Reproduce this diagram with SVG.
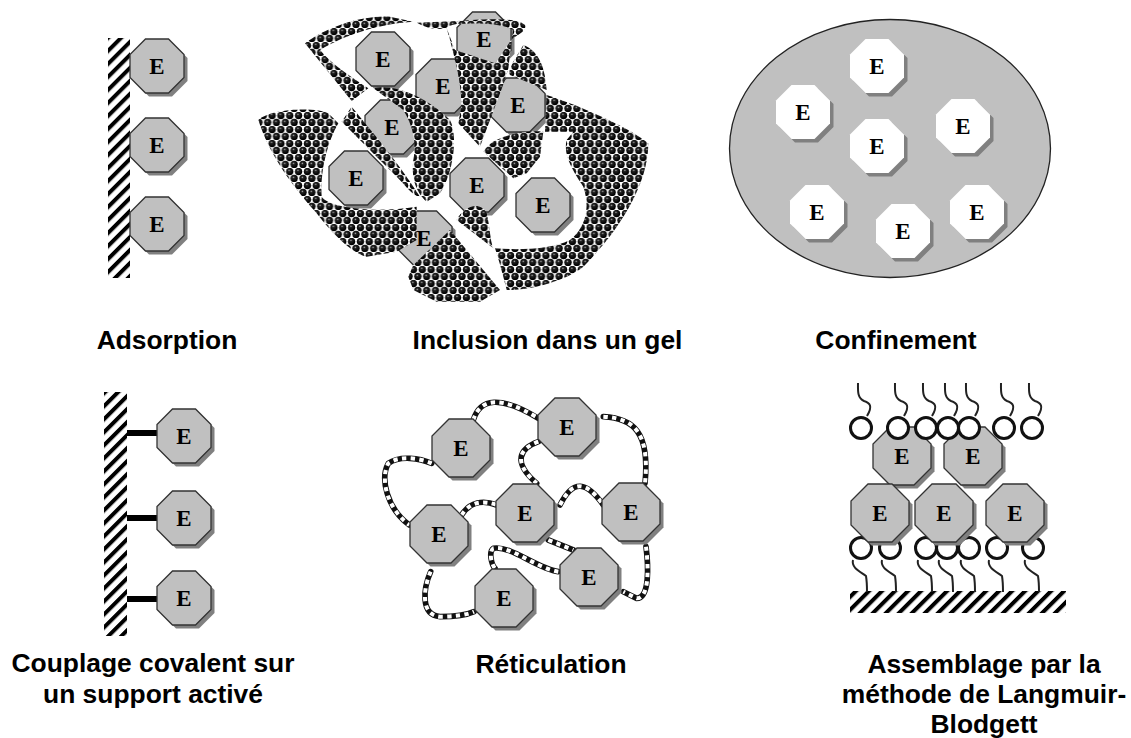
<svg xmlns="http://www.w3.org/2000/svg" width="1131" height="738" viewBox="0 0 1131 738">
<style>
.e{font-family:"Liberation Serif","DejaVu Serif",serif;font-weight:700;font-size:23px;fill:#000;text-anchor:middle}
.lab{font-family:"Liberation Sans",Arial,sans-serif;font-weight:700;font-size:26.4px;fill:#000;text-anchor:middle}
.oct{fill:#c0c0c0;stroke:#333;stroke-width:1.3}
.sh{fill:#808080}
.w{fill:#fff}
.gel{fill:url(#beads)}
.hatch{fill:url(#stripes)}
.c1{fill:none;stroke:#111;stroke-width:17;stroke-linecap:round}
.c2{fill:none;stroke:#fff;stroke-width:12;stroke-dasharray:13 13}
.head{fill:#fff;stroke:#111;stroke-width:3}
.tail{fill:none;stroke:#222;stroke-width:2}
.bar{fill:#000}
</style>
<defs>
<radialGradient id="ball" cx=".42" cy=".35" r=".55"><stop offset="0" stop-color="#aaa"/><stop offset=".3" stop-color="#222"/><stop offset="1" stop-color="#000"/></radialGradient>
<pattern id="beads" patternUnits="userSpaceOnUse" width="26.5" height="42">
<rect width="26.5" height="42" fill="#fff"/>
<circle cx="13.25" cy="10.5" r="11" fill="url(#ball)"/>
<circle cx="0" cy="31.5" r="11" fill="url(#ball)"/>
<circle cx="26.5" cy="31.5" r="11" fill="url(#ball)"/>
</pattern>
<pattern id="stripes" patternUnits="userSpaceOnUse" width="9.2" height="9.2" patternTransform="rotate(45)">
<rect width="9.2" height="9.2" fill="#fff"/><rect width="4" height="9.2" fill="#000"/>
</pattern>
<polygon id="o27s" class="sh" points="-11.5,-27 11.5,-27 27,-11.5 27,11.5 11.5,27 -11.5,27 -27,11.5 -27,-11.5"/>
<polygon id="o27" class="oct" points="-11.5,-27 11.5,-27 27,-11.5 27,11.5 11.5,27 -11.5,27 -27,11.5 -27,-11.5"/>
<polygon id="o29s" class="sh" points="-12,-29 12,-29 29,-12 29,12 12,29 -12,29 -29,12 -29,-12"/>
<polygon id="o29" class="oct" points="-12,-29 12,-29 29,-12 29,12 12,29 -12,29 -29,12 -29,-12"/>
<polygon id="ow" class="w" points="-11.5,-27 11.5,-27 27,-11.5 27,11.5 11.5,27 -11.5,27 -27,11.5 -27,-11.5"/>
<path id="tt" class="tail" d="M6,-12C12,-22 9,-25 3,-27C-4,-30 -3,-38 -3,-45"/>
<path id="tb" class="tail" d="M-8,12C-10,20 0,24 5,28C6,34 6,38 6,44"/>
<g id="n27"><use href="#o27s" x="3.5" y="3.5"/><use href="#o27"/></g>
<g id="n29"><use href="#o29s" x="3.5" y="3.5"/><use href="#o29"/></g>
<g id="nw"><use href="#o27s" x="3.5" y="3.5"/><use href="#ow"/></g>
<g id="ht"><circle class="head" r="10.5"/><use href="#tt"/></g>
<g id="hb"><circle class="head" r="10.5"/><use href="#tb"/></g>
</defs>
<rect width="1131" height="738" fill="#fff"/>

<g id="adsorption">
<rect id="ads-wall" class="hatch" x="108" y="38" width="22" height="240"/>
<g id="ads-e1" transform="translate(157,66)"><use href="#n27"/><text class="e" y="8">E</text></g>
<g id="ads-e2" transform="translate(157,145)"><use href="#n27"/><text class="e" y="8">E</text></g>
<g id="ads-e3" transform="translate(157,224)"><use href="#n27"/><text class="e" y="8">E</text></g>
</g>

<g id="inclusion">
<g id="gel-e1" transform="translate(383,59)"><use href="#n27"/><text class="e" y="8">E</text></g>
<g id="gel-e2" transform="translate(443,86)"><use href="#n27"/><text class="e" y="8">E</text></g>
<g id="gel-e3" transform="translate(484,39)"><use href="#n27"/><text class="e" y="8">E</text></g>
<g id="gel-e4" transform="translate(518,105)"><use href="#n27"/><text class="e" y="8">E</text></g>
<g id="gel-e5" transform="translate(392,127)"><use href="#n27"/><text class="e" y="8">E</text></g>
<g id="gel-e6" transform="translate(356,178)"><use href="#n27"/><text class="e" y="8">E</text></g>
<g id="gel-e7" transform="translate(477,185)"><use href="#n27"/><text class="e" y="8">E</text></g>
<g id="gel-e8" transform="translate(543,205)"><use href="#n27"/><text class="e" y="8">E</text></g>
<g id="gel-e9" transform="translate(425,238)"><use href="#n27"/></g>
<g id="gel-shapes" transform="translate(250,0) scale(.33333)">
<path class="gel" d="M165,130C230,80 340,45 420,50L490,65C400,70 290,100 210,150C250,200 320,240 355,265L305,303Z"/>
<path class="gel" d="M500,68L640,62C680,58 800,50 825,75C832,95 800,105 785,118L775,205L765,240L690,440L625,370L632,330C640,280 620,190 590,85C560,90 530,85 500,68Z M620,72C600,76 592,80 590,85L615,150L735,190L785,118L790,90C760,70 680,68 620,72Z" fill-rule="evenodd"/>
<path class="gel" d="M820,135C860,150 885,190 890,270L780,225C770,210 800,170 820,135Z"/>
<path class="gel" d="M370,265C430,250 530,290 600,360C625,410 610,520 570,580L530,605C490,570 485,520 490,480C500,430 490,380 460,330Z"/>
<path class="gel" d="M275,365L305,320C370,400 440,480 510,590C490,590 470,560 440,530Z"/>
<path class="gel" d="M25,360C60,325 200,320 235,340L265,370C230,430 210,520 215,590C240,625 380,640 500,620L500,720L440,755L350,770C300,760 230,680 200,640C130,560 60,470 25,360Z"/>
<path class="gel" d="M490,795L600,690L750,870L690,905L560,905L490,870L475,830Z"/>
<path class="gel" d="M700,455C730,400 850,390 880,395L870,470L830,520L790,535Z"/>
<path class="gel" d="M890,285C1000,320 1150,390 1195,430C1195,560 1100,700 1000,800C950,840 850,870 770,870C760,830 750,790 735,745C800,750 900,750 960,720C1010,680 1020,620 1000,560C960,500 940,460 950,420L970,395L885,395Z"/>
<path class="gel" d="M620,660C640,620 690,600 710,640C720,680 720,720 730,745Z"/>
</g>
<text class="e" x="424" y="246">E</text>
</g>

<g id="confinement">
<ellipse id="conf-matrix" cx="890" cy="148.5" rx="160.5" ry="129" fill="#c0c0c0" stroke="#222" stroke-width="1.3"/>
<g id="conf-e1" transform="translate(877,66)"><use href="#nw"/><text class="e" y="8">E</text></g>
<g id="conf-e2" transform="translate(803,112)"><use href="#nw"/><text class="e" y="8">E</text></g>
<g id="conf-e3" transform="translate(877,146)"><use href="#nw"/><text class="e" y="8">E</text></g>
<g id="conf-e4" transform="translate(963,126)"><use href="#nw"/><text class="e" y="8">E</text></g>
<g id="conf-e5" transform="translate(817,212)"><use href="#nw"/><text class="e" y="8">E</text></g>
<g id="conf-e6" transform="translate(903,231)"><use href="#nw"/><text class="e" y="8">E</text></g>
<g id="conf-e7" transform="translate(977,212)"><use href="#nw"/><text class="e" y="8">E</text></g>
</g>

<g id="couplage">
<rect id="cov-wall" class="hatch" x="104" y="392" width="23" height="244"/>
<g id="connectors-covalent">
<rect class="bar" x="127" y="430" width="30" height="6"/>
<rect class="bar" x="127" y="515" width="30" height="6"/>
<rect class="bar" x="127" y="596" width="30" height="6"/>
</g>
<g id="cov-e1" transform="translate(184,436)"><use href="#n27"/><text class="e" y="8">E</text></g>
<g id="cov-e2" transform="translate(184,518)"><use href="#n27"/><text class="e" y="8">E</text></g>
<g id="cov-e3" transform="translate(184,598)"><use href="#n27"/><text class="e" y="8">E</text></g>
</g>

<g id="reticulation">
<g id="connectors-chains" transform="translate(370,375) scale(.33333)">
<path class="c1" d="M310,135C330,70 390,60 505,130"/><path class="c2" d="M310,135C330,70 390,60 505,130"/>
<path class="c1" d="M185,265C150,250 90,240 55,265C30,310 50,400 118,450"/><path class="c2" d="M185,265C150,250 90,240 55,265C30,310 50,400 118,450"/>
<path class="c1" d="M505,200C450,220 425,260 500,325"/><path class="c2" d="M505,200C450,220 425,260 500,325"/>
<path class="c1" d="M700,125C790,130 840,170 825,325"/><path class="c2" d="M700,125C790,130 840,170 825,325"/>
<path class="c1" d="M570,390C610,310 650,320 700,390"/><path class="c2" d="M570,390C610,310 650,320 700,390"/>
<path class="c1" d="M275,420C300,380 340,375 380,390"/><path class="c2" d="M275,420C300,380 340,375 380,390"/>
<path class="c1" d="M535,495L610,525"/><path class="c2" d="M535,495L610,525"/>
<path class="c1" d="M565,590C500,580 420,510 370,520C355,530 365,570 375,580"/><path class="c2" d="M565,590C500,580 420,510 370,520C355,530 365,570 375,580"/>
<path class="c1" d="M182,590C160,640 150,720 210,725C250,725 290,720 312,710"/><path class="c2" d="M182,590C160,640 150,720 210,725C250,725 290,720 312,710"/>
<path class="c1" d="M828,515C835,570 840,670 800,670L760,650"/><path class="c2" d="M828,515C835,570 840,670 800,670L760,650"/>
</g>
<g id="ret-e1" transform="translate(461,448)"><use href="#n29"/><text class="e" y="8">E</text></g>
<g id="ret-e2" transform="translate(567,427)"><use href="#n29"/><text class="e" y="8">E</text></g>
<g id="ret-e3" transform="translate(525,513)"><use href="#n29"/><text class="e" y="8">E</text></g>
<g id="ret-e4" transform="translate(631,512)"><use href="#n29"/><text class="e" y="8">E</text></g>
<g id="ret-e5" transform="translate(439,534)"><use href="#n29"/><text class="e" y="8">E</text></g>
<g id="ret-e6" transform="translate(589,577)"><use href="#n29"/><text class="e" y="8">E</text></g>
<g id="ret-e7" transform="translate(504,598)"><use href="#n29"/><text class="e" y="8">E</text></g>
</g>

<g id="langmuir">
<rect id="lb-base" class="hatch" x="850" y="591" width="216" height="22"/>
<g id="lb-bottom-lipids">
<use href="#hb" x="861" y="548"/><use href="#hb" x="890" y="548"/><use href="#hb" x="926" y="548"/><use href="#hb" x="947" y="548"/><use href="#hb" x="969" y="548"/><use href="#hb" x="997" y="548"/><use href="#hb" x="1033" y="548"/>
</g>
<g id="lb-e1" transform="translate(902,456)"><use href="#n29"/><text class="e" y="8">E</text></g>
<g id="lb-e2" transform="translate(973,456)"><use href="#n29"/><text class="e" y="8">E</text></g>
<g id="lb-e3" transform="translate(880,513)"><use href="#n29"/><text class="e" y="8">E</text></g>
<g id="lb-e4" transform="translate(944,513)"><use href="#n29"/><text class="e" y="8">E</text></g>
<g id="lb-e5" transform="translate(1015,513)"><use href="#n29"/><text class="e" y="8">E</text></g>
<g id="lb-top-lipids">
<use href="#ht" x="861" y="428"/><use href="#ht" x="898" y="428"/><use href="#ht" x="926" y="428"/><use href="#ht" x="948" y="428"/><use href="#ht" x="969" y="428"/><use href="#ht" x="1004" y="428"/><use href="#ht" x="1032" y="428"/>
</g>
</g>

<g id="labels">
<text class="lab" x="167" y="349">Adsorption</text>
<text class="lab" x="547.5" y="349">Inclusion dans un gel</text>
<text class="lab" x="896" y="349">Confinement</text>
<text class="lab" x="153" y="672">Couplage covalent sur</text>
<text class="lab" x="153" y="703">un support activé</text>
<text class="lab" x="551" y="673">Réticulation</text>
<text class="lab" x="984" y="673">Assemblage par la</text>
<text class="lab" x="984" y="703">méthode de Langmuir-</text>
<text class="lab" x="984" y="733">Blodgett</text>
</g>
</svg>
